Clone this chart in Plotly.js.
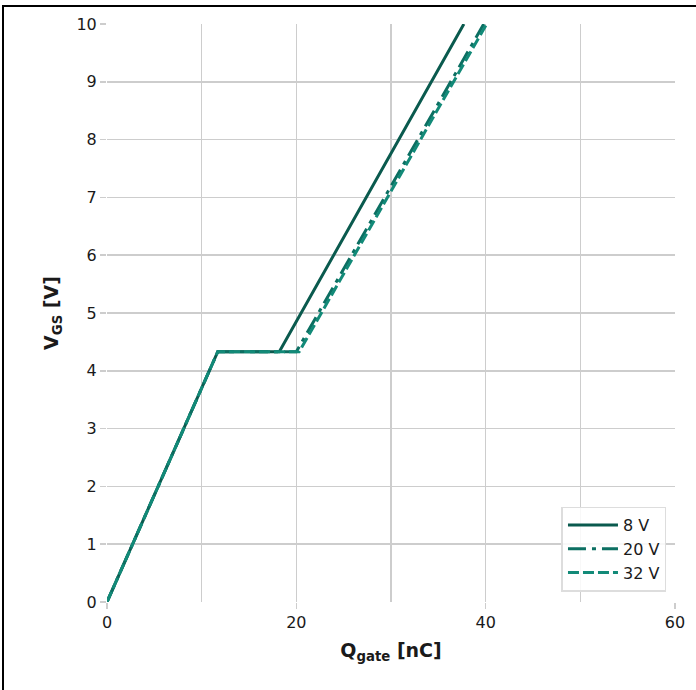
<!DOCTYPE html>
<html>
<head>
<meta charset="utf-8">
<script src="https://cdn.plot.ly/plotly-3.0.1.min.js"></script>
<style>
  html, body { margin: 0; padding: 0; background: #fff; }
  #wrap { position: relative; width: 696px; height: 690px; }
  #chart { position: absolute; left: 0; top: 0; width: 696px; height: 690px; }
  #frame { position: absolute; left: 2px; top: 5px; width: 700px; height: 700px;
           border-top: 2px solid #000; border-left: 2px solid #000; pointer-events: none; }
</style>
</head>
<body>
<div id="wrap">
  <div id="chart"></div>
  <div id="frame"></div>
</div>
<script>
// Gate charge curves (Q in nC, V in V)
const seriesNames = ["8 V", "20 V", "32 V"];
const q8  = [0, 11.7, 18.2, 37.7];
const v8  = [0, 4.33, 4.33, 10];
const q20 = [0, 11.7, 20.0, 39.8];
const v20 = [0, 4.33, 4.33, 10];
const q32 = [0, 11.7, 20.3, 40.1];
const v32 = [0, 4.33, 4.33, 10];
const xTicks = [0, 20, 40, 60];
const xMinor = [10, 30, 50];
const yTicks = [0, 1, 2, 3, 4, 5, 6, 7, 8, 9, 10];

const traces = [
  { x: q8, y: v8, name: seriesNames[0], mode: "lines",
    line: { color: "#0a5a4e", width: 3 } },
  { x: q20, y: v20, name: seriesNames[1], mode: "lines",
    line: { color: "#0c6f62", width: 3, dash: "18px,6px,4px,6px" } },
  { x: q32, y: v32, name: seriesNames[2], mode: "lines",
    line: { color: "#128a78", width: 3, dash: "11px,4px" } }
];

const gridColor = "#cdcdcd";
const layout = {
  width: 696, height: 690,
  margin: { l: 107, r: 21, t: 24, b: 88 },
  paper_bgcolor: "rgba(0,0,0,0)", plot_bgcolor: "#fff",
  font: { family: "DejaVu Sans", size: 16, color: "#1a1a1a" },
  showlegend: true,
  legend: {
    x: 0.985, y: 0.018, xanchor: "right", yanchor: "bottom",
    bgcolor: "rgba(255,255,255,0.85)", bordercolor: "#dddddd", borderwidth: 1.5,
    font: { family: "DejaVu Sans", size: 16, color: "#1a1a1a" },
    itemwidth: 50, tracegroupgap: 0
  },
  xaxis: {
    range: [0, 60], tickvals: xTicks, ticktext: xTicks.map(String),
    showgrid: true, gridcolor: gridColor, gridwidth: 1.6,
    zeroline: false, showline: false,
    ticks: "outside", ticklen: 6, tickcolor: gridColor, tickwidth: 1.6,
    minor: { tickvals: xMinor, showgrid: true, gridcolor: gridColor, gridwidth: 1.6, ticks: "" },
    title: { text: "<b>Q<sub>gate</sub> [nC]</b>", font: { size: 19, family: "DejaVu Sans" }, standoff: 12 },
    tickfont: { size: 16 }
  },
  yaxis: {
    range: [0, 10], tickvals: yTicks, ticktext: yTicks.map(String),
    showgrid: true, gridcolor: gridColor, gridwidth: 1.6,
    zeroline: false, showline: false,
    ticks: "outside", ticklen: 6, tickcolor: gridColor, tickwidth: 1.6,
    title: { text: "<b>V<sub>GS</sub> [V]</b>", font: { size: 19, family: "DejaVu Sans" }, standoff: 12 },
    tickfont: { size: 16 }
  }
};

Plotly.newPlot("chart", traces, layout, { displayModeBar: false, staticPlot: true });
</script>
</body>
</html>
